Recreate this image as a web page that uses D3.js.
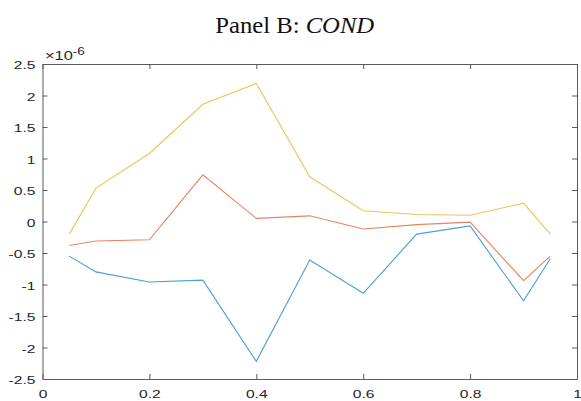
<!DOCTYPE html>
<html>
<head>
<meta charset="utf-8">
<script src="https://cdn.jsdelivr.net/npm/d3@7"></script>
<style>
  html, body { margin: 0; padding: 0; background: #fff; }
  svg { display: block; }
</style>
</head>
<body>
<svg id="chart" width="581" height="401"></svg>
<script>
// Values are in units of 1e-6
const xs = [0.05, 0.1, 0.2, 0.3, 0.4, 0.5, 0.6, 0.7, 0.8, 0.9, 0.95];
const seriesBlue   = [-0.55, -0.80, -0.96, -0.93, -2.22, -0.61, -1.14, -0.20, -0.07, -1.26, -0.59];
const seriesOrange = [-0.38, -0.31, -0.29, 0.74, 0.05, 0.09, -0.12, -0.05, -0.01, -0.94, -0.55];
const seriesYellow = [-0.20, 0.53, 1.08, 1.86, 2.19, 0.71, 0.17, 0.11, 0.10, 0.29, -0.20];
const xTicks = [0, 0.2, 0.4, 0.6, 0.8, 1];
const xTickLabels = ["0", "0.2", "0.4", "0.6", "0.8", "1"];
const yTicks = [-2.5, -2, -1.5, -1, -0.5, 0, 0.5, 1, 1.5, 2, 2.5];
const yTickLabels = ["-2.5", "-2", "-1.5", "-1", "-0.5", "0", "0.5", "1", "1.5", "2", "2.5"];
const titleMain = "Panel B: ";
const titleItalic = "COND";
const exponentBase = "\u00d710";
const exponentPow = "-6";

const svg = d3.select("#chart");
const L = 42.5, R = 577, T = 64, B = 379;
const x = d3.scaleLinear().domain([0, 1]).range([L, R]);
const y = d3.scaleLinear().domain([-2.5, 2.5]).range([B, T]);
const axisColor = "#5a5a5a";
const textColor = "#262626";
const SX = 1.42;

function styleAxis(g) {
  g.selectAll("path.domain").attr("stroke", axisColor).attr("stroke-width", 1);
  g.selectAll(".tick line").attr("stroke", axisColor).attr("stroke-width", 1);
}

// bottom axis
const gb = svg.append("g").attr("transform", `translate(0,${B})`)
  .call(d3.axisBottom(x).tickValues(xTicks).tickSizeInner(-5).tickSizeOuter(0)
    .tickFormat((d, i) => xTickLabels[i]));
styleAxis(gb);
gb.selectAll(".tick text")
  .attr("y", null).attr("dy", null)
  .attr("transform", `translate(0,18.5) scale(${SX},1)`)
  .attr("text-anchor", "middle")
  .attr("fill", textColor)
  .style("font-family", "'Liberation Sans', Arial, sans-serif")
  .style("font-size", "11px");

// top axis
const gt = svg.append("g").attr("transform", `translate(0,${T})`)
  .call(d3.axisTop(x).tickValues(xTicks).tickSizeInner(-5).tickSizeOuter(0).tickFormat(""));
styleAxis(gt);

// left axis
const gl = svg.append("g").attr("transform", `translate(${L},0)`)
  .call(d3.axisLeft(y).tickValues(yTicks).tickSizeInner(-5).tickSizeOuter(0)
    .tickFormat((d, i) => yTickLabels[i]));
styleAxis(gl);
gl.selectAll(".tick text")
  .attr("x", null).attr("dy", null)
  .attr("transform", `translate(-7,4.5) scale(${SX},1)`)
  .attr("text-anchor", "end")
  .attr("fill", textColor)
  .style("font-family", "'Liberation Sans', Arial, sans-serif")
  .style("font-size", "11px");

// right axis
const gr = svg.append("g").attr("transform", `translate(${R},0)`)
  .call(d3.axisRight(y).tickValues(yTicks).tickSizeInner(-5).tickSizeOuter(0).tickFormat(""));
styleAxis(gr);

// lines
const line = d3.line().x((d, i) => x(xs[i])).y(d => y(d));
const series = [
  { data: seriesBlue, color: "#4a9fd9" },
  { data: seriesOrange, color: "#e8845e" },
  { data: seriesYellow, color: "#efc258" }
];
series.forEach(s => {
  svg.append("path").datum(s.data)
    .attr("d", line)
    .attr("fill", "none")
    .attr("stroke", s.color)
    .attr("stroke-width", 1.1);
});

// exponent label
const ex = svg.append("text")
  .attr("fill", textColor)
  .style("font-family", "'Liberation Sans', Arial, sans-serif")
  .style("font-size", "12px");
ex.append("tspan").text(exponentBase);
ex.append("tspan").attr("dy", -5).style("font-size", "10px").text(exponentPow);
const ew = ex.node().getComputedTextLength();
ex.attr("transform", `translate(45,59.5) scale(${40 / ew},1)`);

// title
const title = svg.append("text")
  .attr("text-anchor", "middle")
  .attr("fill", "#111")
  .style("font-family", "'Liberation Serif', 'Times New Roman', serif")
  .style("font-size", "23px");
title.append("tspan").text(titleMain);
title.append("tspan").style("font-style", "italic").text(titleItalic);
const tw = title.node().getComputedTextLength();
const tsx = 159 / tw;
title.attr("transform", `translate(294.7,32.7) scale(${tsx},1)`);
</script>
</body>
</html>
